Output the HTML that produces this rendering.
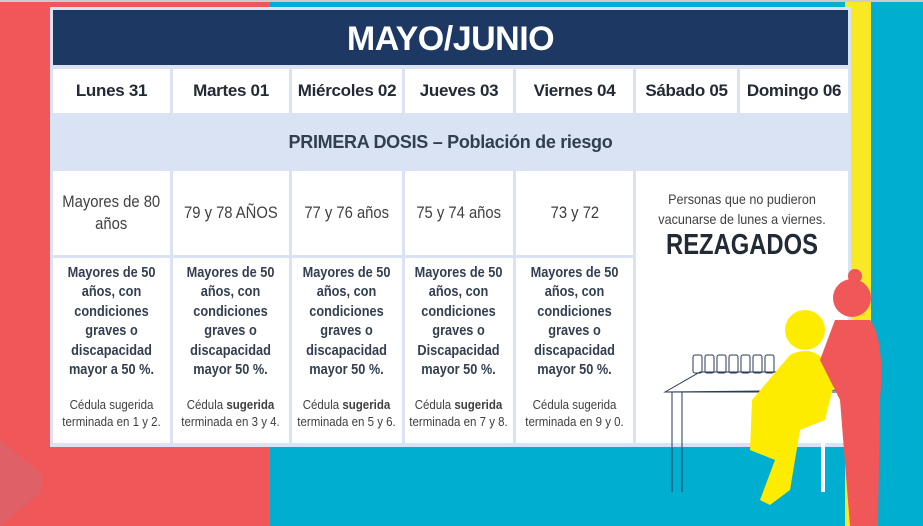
<!DOCTYPE html>
<html><head><meta charset="utf-8"><style>
*{margin:0;padding:0;box-sizing:border-box}
body{width:923px;height:526px;position:relative;overflow:hidden;background:#00afcf;font-family:"Liberation Sans",sans-serif}
.a{position:absolute}
.c{position:absolute;background:#fff;display:flex;align-items:center;justify-content:center;text-align:center}
.d{font-weight:bold;font-size:17px;color:#222a35;letter-spacing:-0.3px}
.g{font-size:17px;color:#404040;line-height:22px}
.g>div{transform:scaleX(.87);white-space:nowrap}
.w{white-space:nowrap}
.b{font-weight:bold;font-size:15px;color:#333f50;line-height:19.4px;display:block;transform:scaleX(.85)}
.s{font-size:12.5px;color:#404040;line-height:17px;display:block;margin-top:18px;transform:scaleX(.92)}
</style></head><body>
<div class="a" style="left:0;top:0;width:923px;height:2px;background:#ccc"></div>
<div class="a" style="left:0;top:2px;width:270px;height:524px;background:#f05758"></div>
<div class="a" style="left:0;top:440px;width:70px;height:86px;background:#e06068;clip-path:polygon(0 0,60% 40%,60% 60%,0 100%)"></div>
<div class="a" style="left:845px;top:2px;width:26px;height:524px;background:#f9e824"></div>
<div class="a" style="left:50px;top:7px;width:801px;height:440px;background:#dae3f3"></div>
<div class="a" style="left:53px;top:10px;width:795px;height:55px;background:#1e3864;color:#fff;font-weight:bold;font-size:34px;text-align:center;line-height:58px;letter-spacing:-0.5px">MAYO/JUNIO</div>
<div class="c d" style="left:53px;top:69px;width:117px;height:44px">Lunes 31</div>
<div class="c d" style="left:173px;top:69px;width:116px;height:44px">Martes 01</div>
<div class="c d" style="left:292px;top:69px;width:110px;height:44px">Miércoles 02</div>
<div class="c d" style="left:405px;top:69px;width:108px;height:44px">Jueves 03</div>
<div class="c d" style="left:516px;top:69px;width:117px;height:44px">Viernes 04</div>
<div class="c d" style="left:636px;top:69px;width:101px;height:44px">Sábado 05</div>
<div class="c d" style="left:740px;top:69px;width:108px;height:44px">Domingo 06</div>
<div class="a d" style="left:53px;top:132px;width:795px;text-align:center;color:#333f50;font-size:18px">PRIMERA DOSIS – Población de riesgo</div>
<div class="c g" style="left:53px;top:171px;width:117px;height:84px"><div>Mayores de 80<br>años</div></div>
<div class="c g" style="left:173px;top:171px;width:116px;height:84px"><div>79 y 78 AÑOS</div></div>
<div class="c g" style="left:292px;top:171px;width:110px;height:84px"><div>77 y 76 años</div></div>
<div class="c g" style="left:405px;top:171px;width:108px;height:84px"><div>75 y 74 años</div></div>
<div class="c g" style="left:516px;top:171px;width:117px;height:84px"><div>73 y 72</div></div>
<div class="c" style="left:53px;top:258px;width:117px;height:185px;align-items:flex-start;padding-top:5px"><div class="w"><span class="b">Mayores de 50<br>años, con<br>condiciones<br>graves o<br>discapacidad<br>mayor a 50 %.</span><span class="s">Cédula sugerida<br>terminada en 1 y 2.</span></div></div>
<div class="c" style="left:173px;top:258px;width:116px;height:185px;align-items:flex-start;padding-top:5px"><div class="w"><span class="b">Mayores de 50<br>años, con<br>condiciones<br>graves o<br>discapacidad<br>mayor 50 %.</span><span class="s">Cédula <b>sugerida</b><br>terminada en 3 y 4.</span></div></div>
<div class="c" style="left:292px;top:258px;width:110px;height:185px;align-items:flex-start;padding-top:5px"><div class="w"><span class="b">Mayores de 50<br>años, con<br>condiciones<br>graves o<br>discapacidad<br>mayor 50 %.</span><span class="s">Cédula <b>sugerida</b><br>terminada en 5 y 6.</span></div></div>
<div class="c" style="left:405px;top:258px;width:108px;height:185px;align-items:flex-start;padding-top:5px"><div class="w"><span class="b">Mayores de 50<br>años, con<br>condiciones<br>graves o<br>Discapacidad<br>mayor 50 %.</span><span class="s">Cédula <b>sugerida</b><br>terminada en 7 y 8.</span></div></div>
<div class="c" style="left:516px;top:258px;width:117px;height:185px;align-items:flex-start;padding-top:5px"><div class="w"><span class="b">Mayores de 50<br>años, con<br>condiciones<br>graves o<br>discapacidad<br>mayor 50 %.</span><span class="s">Cédula sugerida<br>terminada en 9 y 0.</span></div></div>
<div class="c" style="left:636px;top:171px;width:212px;height:272px;align-items:flex-start;padding-top:18px"><div class="w"><div style="font-size:14px;color:#404040;line-height:20px;transform:scaleX(.9)">Personas que no pudieron<br>vacunarse de lunes a viernes.</div><div style="font-weight:bold;font-size:29px;color:#222a35;line-height:32px;transform:scaleX(.82)">REZAGADOS</div></div></div>
<svg class="a" style="left:0;top:0" width="923" height="526">
<g stroke="#2a3a5a" stroke-width="1" fill="none">
<path d="M665 392 L700 372 L850 372 L850 390 Z"/><line x1="665" y1="392" x2="850" y2="392"/>
<line x1="672" y1="392" x2="672" y2="492"/><line x1="682" y1="392" x2="682" y2="492"/>
<rect x="693" y="355" width="9" height="18" rx="2"/><rect x="705" y="355" width="9" height="18" rx="2"/><rect x="717" y="355" width="9" height="18" rx="2"/><rect x="729" y="355" width="9" height="18" rx="2"/><rect x="741" y="355" width="9" height="18" rx="2"/><rect x="753" y="355" width="9" height="18" rx="2"/><rect x="765" y="355" width="9" height="18" rx="2"/>
</g>
<line x1="823" y1="440" x2="823" y2="492" stroke="#fff" stroke-width="4"/>
<g fill="#fdec00"><circle cx="805" cy="330" r="20"/><path d="M790 355 Q820 340 835 380 L825 420 L800 430 L790 490 L770 505 L760 500 L775 460 L750 450 L752 400 Z"/></g>
<g fill="#f05758"><circle cx="855" cy="276" r="7"/><circle cx="852" cy="298" r="19"/><path d="M835 320 L870 320 Q885 340 880 400 L878 526 L850 526 L840 400 L820 360 Z"/></g>
</svg>
</body></html>
